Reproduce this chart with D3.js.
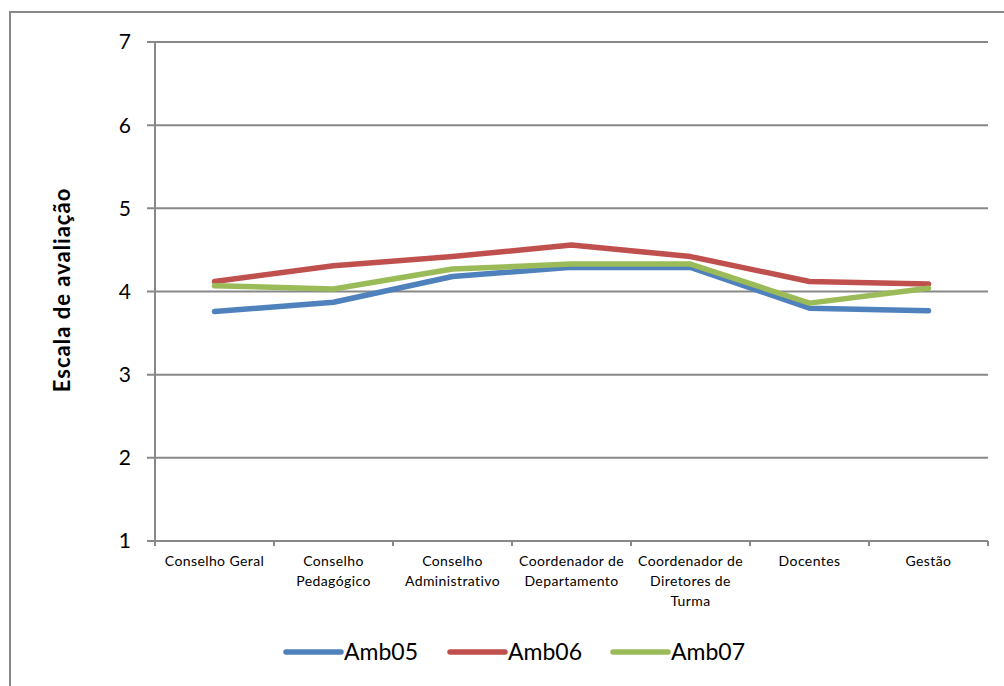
<!DOCTYPE html>
<html><head><meta charset="utf-8">
<script src="https://cdn.jsdelivr.net/npm/d3@7"></script>
<style>body{margin:0;background:#fff;} svg{display:block;}</style>
</head><body>
<script>
const categories = [["Conselho Geral"],["Conselho","Pedagógico"],["Conselho","Administrativo"],["Coordenador de","Departamento"],["Coordenador de","Diretores de","Turma"],["Docentes"],["Gestão"]];
const seriesNames = ["Amb05","Amb06","Amb07"];
const amb05 = [3.76, 3.87, 4.18, 4.29, 4.29, 3.80, 3.77];
const amb06 = [4.12, 4.31, 4.42, 4.56, 4.42, 4.12, 4.09];
const amb07 = [4.07, 4.03, 4.27, 4.33, 4.33, 3.86, 4.04];
const yTicks = [1,2,3,4,5,6,7];
const colors = ["#4F81BD","#C0504D","#9BBB59"];
const allSeries = [amb05, amb06, amb07];

(function(){
const W = 1004, H = 686;
const svg = d3.select("body").append("svg").attr("width", W).attr("height", H);
svg.append("rect").attr("x",10).attr("y",12).attr("width",W).attr("height",H)
  .attr("fill","#fff").attr("stroke","#888").attr("stroke-width",2);

const pl = 155, pr = 988, pt = 42, pb = 541;
const x = d3.scaleBand().domain(d3.range(categories.length)).range([pl, pr]).paddingInner(0).paddingOuter(0);
const y = d3.scaleLinear().domain([1,7]).range([pb, pt]);

svg.append("g").selectAll("line").data(yTicks).join("line")
  .attr("x1", pl-8).attr("x2", pr).attr("y1", d=>y(d)).attr("y2", d=>y(d))
  .attr("stroke","#888").attr("stroke-width",2);
svg.append("line").attr("x1",pl).attr("x2",pl).attr("y1",pt).attr("y2",pb+4)
  .attr("stroke","#888").attr("stroke-width",2);
svg.append("g").selectAll("line").data(d3.range(categories.length+1)).join("line")
  .attr("x1", i=> i<categories.length ? x(i) : pr).attr("x2", i=> i<categories.length ? x(i) : pr)
  .attr("y1", pb).attr("y2", pb+5).attr("stroke","#888").attr("stroke-width",2);

svg.append("g").selectAll("text").data(yTicks).join("text")
  .attr("x", 131).attr("y", d=>y(d)).attr("dy","0.35em").attr("text-anchor","end")
  .attr("font-family","Lato, sans-serif").attr("font-size",21).attr("fill","#000").text(d=>d);

svg.append("text").attr("transform","translate(70,290) rotate(-90)").attr("text-anchor","middle")
  .attr("font-family","Lato, sans-serif").attr("font-weight","bold").attr("font-size",22)
  .attr("letter-spacing",1).attr("fill","#000")
  .text("Escala de avaliação");

const cg = svg.append("g").selectAll("text").data(categories).join("text")
  .attr("x",(d,i)=>x(i)+x.bandwidth()/2).attr("y",566).attr("text-anchor","middle")
  .attr("font-family","Lato, sans-serif").attr("font-size",14).attr("letter-spacing",0.4).attr("fill","#000");
cg.selectAll("tspan").data(d=>d).join("tspan")
  .attr("x", function(){return this.parentNode.getAttribute("x");})
  .attr("dy",(d,j)=> j===0?0:20).text(d=>d);

const line = d3.line().x((d,i)=>x(i)+x.bandwidth()/2).y(d=>y(d));
svg.append("g").selectAll("path").data(allSeries).join("path")
  .attr("d", line).attr("fill","none").attr("stroke",(d,i)=>colors[i])
  .attr("stroke-width",5.5).attr("stroke-linecap","round").attr("stroke-linejoin","round");

const legX = [286, 450, 613];
const lg = svg.append("g").selectAll("g").data(seriesNames).join("g")
  .attr("transform",(d,i)=>`translate(${legX[i]},652)`);
lg.append("line").attr("x1",0).attr("x2",55).attr("stroke",(d,i)=>colors[i]).attr("stroke-width",5.5).attr("stroke-linecap","round");
lg.append("text").attr("x",58).attr("dy","0.35em").attr("font-family","Lato, sans-serif").attr("font-size",23).attr("fill","#000").text(d=>d);
})();
</script>
</body></html>
